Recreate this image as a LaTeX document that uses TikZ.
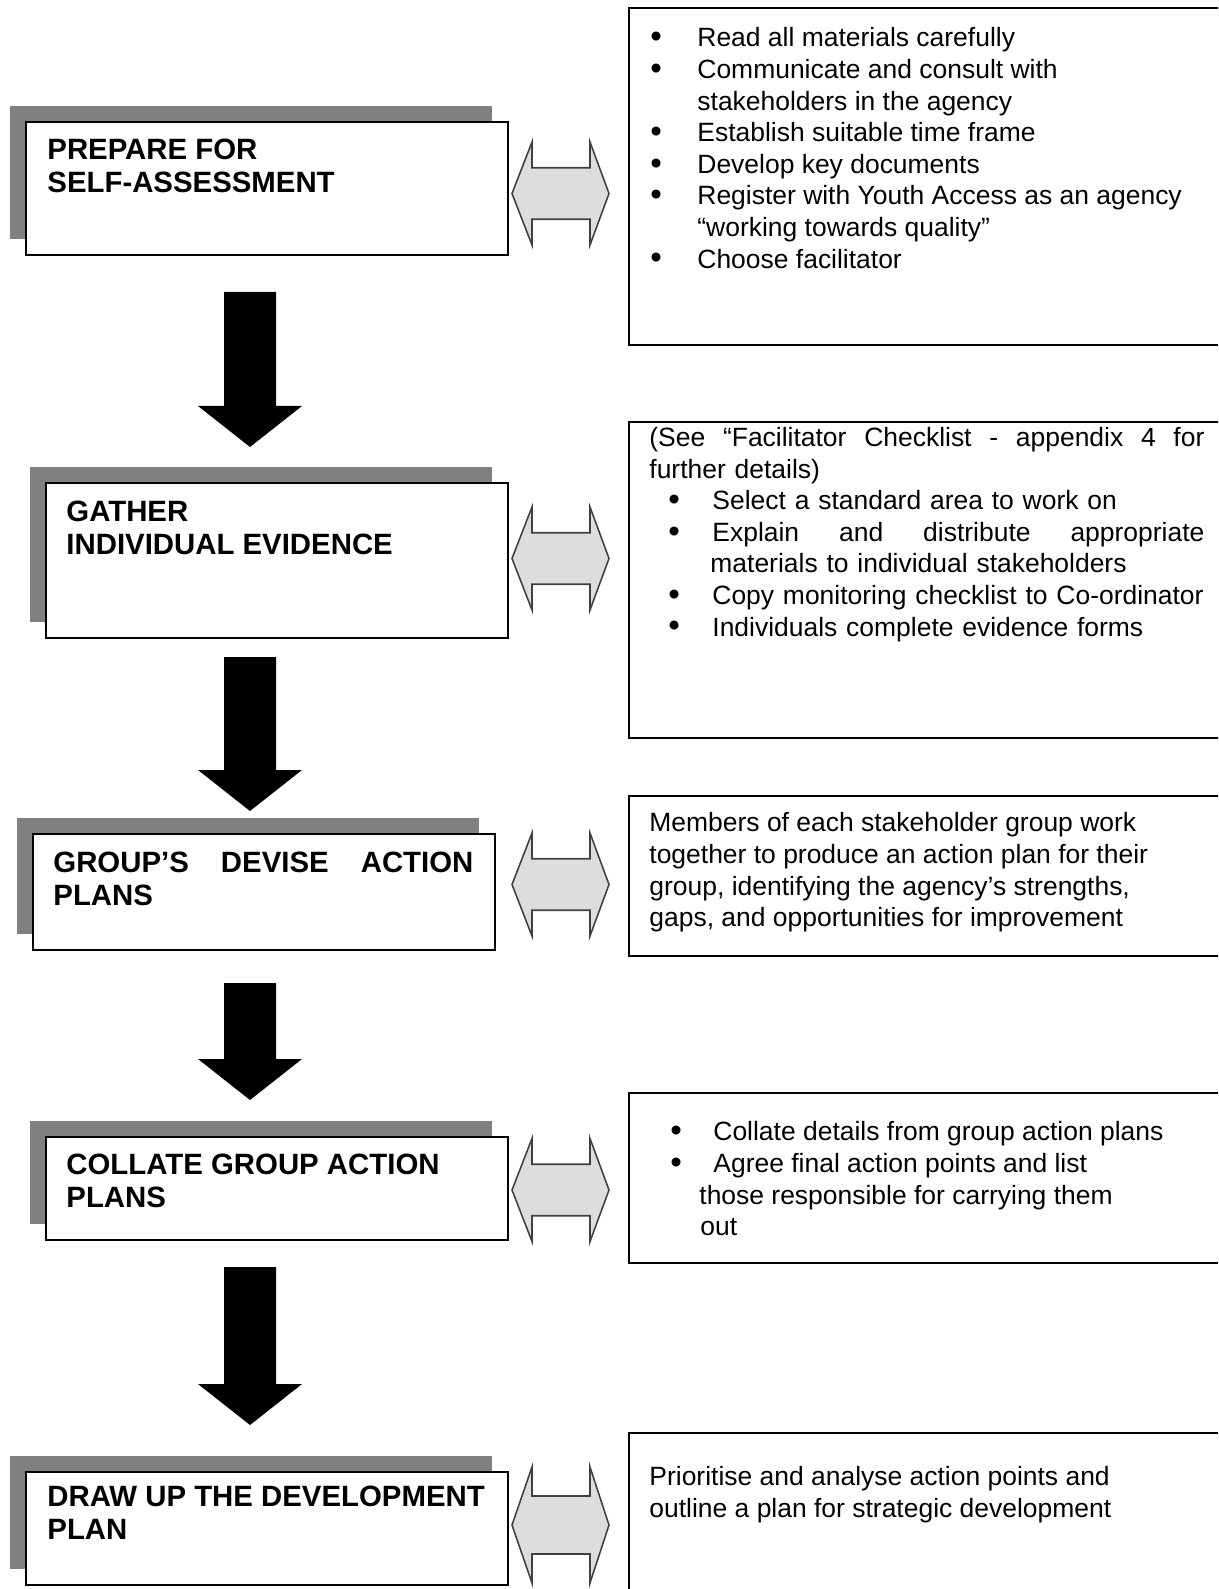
\documentclass[tikz,border=0pt]{standalone}
\usepackage{fontspec}
\setmainfont{Liberation Sans}
\usetikzlibrary{shadows}
\newlength\pxu
\setlength\pxu{0.48pt}
\definecolor{shadowgrey}{RGB}{128,128,128}
\definecolor{arrowfill}{RGB}{221,221,221}
\definecolor{arrowedge}{RGB}{64,64,64}
\newcommand\bodyfont{\fontsize{12.7pt}{15.17pt}\selectfont}
\newcommand\headfont{\fontsize{14.1pt}{15.6pt}\selectfont\bfseries}
\newcommand\bul[1]{\makebox[#1\pxu][l]{\raisebox{-0.4pt}{\scalebox{1.25}{\textbullet}}}}
% black block arrow: centre x, top y, tip y
\newcommand\stagearrow[3]{\fill (#1-26,#2) -- (#1+26,#2) -- (#1+26,#3-41) -- (#1+52,#3-41)
  -- (#1,#3) -- (#1-52,#3-41) -- (#1-26,#3-41) -- cycle;}
% grey two-way arrow: centre y, half height
\newcommand\twoway[2]{\draw[twowaystyle] (512,#1) -- (532,#1-#2) -- (532,#1-#2/2) -- (590,#1-#2/2)
  -- (590,#1-#2) -- (609,#1) -- (590,#1+#2) -- (590,#1+#2/2) -- (532,#1+#2/2) -- (532,#1+#2) -- cycle;}
\tikzset{
  stagebox/.style={draw, line width=0.8pt, fill=white, inner sep=0pt, anchor=north west,
    drop shadow={shadow xshift=-16\pxu, shadow yshift=16\pxu, fill=shadowgrey, opacity=1}},
  notebox/.style={draw, line width=0.8pt, inner sep=0pt, anchor=north west},
  headtext/.style={anchor=north west, inner sep=0pt, align=left, font=\headfont},
  notetext/.style={anchor=north west, inner sep=0pt, align=left, font=\bodyfont},
  twowaystyle/.style={fill=arrowfill, draw=arrowedge, line width=0.75pt}
}
\begin{document}
\begin{tikzpicture}[x=0.48pt, y=-0.48pt]
  \path[use as bounding box] (0,0) rectangle (1218,1589);
  \fill[white] (0,0) rectangle (1218,1589);
  \clip (0,0) rectangle (1218,1589);
  % stages
  \node[stagebox, minimum width=482\pxu, minimum height=133\pxu] (b1) at (25,121) {};
  \node[stagebox, minimum width=462\pxu, minimum height=155\pxu] (b2) at (45,482) {};
  \node[stagebox, minimum width=462\pxu, minimum height=116\pxu] (b3) at (32,833) {};
  \node[stagebox, minimum width=462\pxu, minimum height=103\pxu] (b4) at (45,1136) {};
  \node[stagebox, minimum width=482\pxu, minimum height=113\pxu] (b5) at (25,1471) {};
  \node[headtext] (h1) at (47,136.8) {\strut PREPARE FOR\\SELF-ASSESSMENT};
  \node[headtext] (h2) at (66,498.8) {\strut GATHER\\INDIVIDUAL EVIDENCE};
  \node[headtext, text width=420\pxu] (h3) at (53,849.8) {\strut GROUP’S\hfill DEVISE\hfill ACTION\\PLANS};
  \node[headtext] (h4) at (66,1151.8) {\strut COLLATE GROUP ACTION\\PLANS};
  \node[headtext] (h5) at (47,1483.8) {\strut DRAW UP THE DEVELOPMENT\\PLAN};
  % notes
  \node[notebox, minimum width=620\pxu, minimum height=337\pxu] (n1) at (628,7) {};
  \node[notebox, minimum width=620\pxu, minimum height=316\pxu] (n2) at (628,421) {};
  \node[notebox, minimum width=620\pxu, minimum height=160\pxu] (n3) at (628,795) {};
  \node[notebox, minimum width=620\pxu, minimum height=170\pxu] (n4) at (628,1092) {};
  \node[notebox, minimum width=620\pxu, minimum height=200\pxu] (n5) at (628,1432) {};
  \node[notetext] (r1) at (650,24.4) {\strut\bul{47}Read all materials carefully\\
    \bul{47}Communicate and consult with\\
    \hspace*{47\pxu}stakeholders in the agency\\
    \bul{47}Establish suitable time frame\\
    \bul{47}Develop key documents\\
    \bul{47}Register with Youth Access as an agency\\
    \hspace*{47\pxu}“working towards quality”\\
    \bul{47}Choose facilitator};
  \node[notetext, text width=555\pxu] (r2) at (649,424) {\strut(See\hfill “Facilitator\hfill Checklist\hfill -\hfill appendix\hfill 4\hfill for\\
    further details)\\
    \hspace*{19\pxu}\bul{44}Select a standard area to work on\\
    \hspace*{19\pxu}\bul{44}Explain\hfill and\hfill distribute\hfill appropriate\\
    \hspace*{61\pxu}materials to individual stakeholders\\
    \hspace*{19\pxu}\bul{44}Copy monitoring checklist to Co-ordinator\\
    \hspace*{19\pxu}\bul{44}Individuals complete evidence forms};
  \node[notetext] (r3) at (649,809.4) {\strut Members of each stakeholder group work\\
    together to produce an action plan for their\\
    group, identifying the agency’s strengths,\\
    gaps, and opportunities for improvement};
  \node[notetext] (r4) at (649,1118.4) {\strut\hspace*{21\pxu}\bul{43}Collate details from group action plans\\
    \hspace*{21\pxu}\bul{43}Agree final action points and list\\
    \hspace*{50\pxu}those responsible for carrying them\\
    \hspace*{51\pxu}out};
  \node[notetext] (r5) at (649,1463.4) {\strut Prioritise and analyse action points and\\
    outline a plan for strategic development};
  % arrows
  \stagearrow{250}{292}{447}
  \stagearrow{250}{657}{811}
  \stagearrow{250}{983}{1100}
  \stagearrow{250}{1267}{1425}
  \twoway{193.5}{51.5}
  \twoway{558.5}{51.5}
  \twoway{884.5}{51.5}
  \twoway{1190}{51.5}
  \twoway{1525}{58}
\end{tikzpicture}
\end{document}
